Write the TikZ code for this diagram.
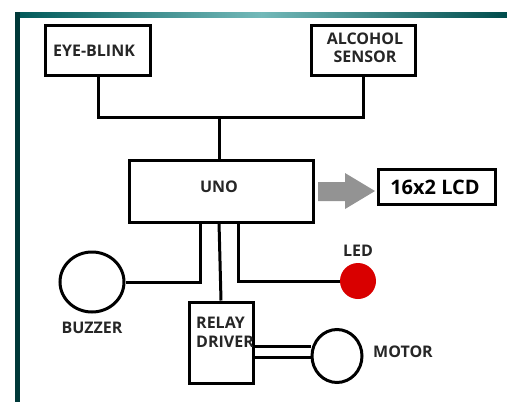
\documentclass[tikz,border=0pt]{standalone}
\usepackage{fontspec}
\setmainfont{Open Sans}
\usetikzlibrary{arrows.meta,shapes.geometric}
\begin{document}
\begin{tikzpicture}[x=1pt,y=-1pt,
  blk/.style={draw=black,line width=3pt,fill=white,inner sep=0pt},
  lbl/.style={font=\bfseries\fontsize{16}{18.5}\selectfont,text=black!85,align=center,inner sep=0pt},
  wire/.style={draw=black,line width=3pt}]
\useasboundingbox (0,0) rectangle (507,405);
\fill[white] (0,0) rectangle (507,405);
% frame
\shade[left color=teal!70!black,right color=teal!60!black,middle color=teal!55!white] (15,12) rectangle (507,17);
\fill[teal!45!black] (15,12) rectangle (20,402);
% boxes
\node[blk,minimum width=105pt,minimum height=50pt] (eye) at (98,50) {};
\node[lbl] at (94,51) {EYE-BLINK};
\node[blk,minimum width=104pt,minimum height=50pt] (alc) at (363,50) {};
\node[lbl] at (365,48) {ALCOHOL\\SENSOR};
\node[blk,minimum width=184pt,minimum height=62pt] (uno) at (221,191) {};
\node[lbl] at (219,187) {UNO};
\node[blk,minimum width=117pt,minimum height=35pt] (lcd) at (436.5,186.5) {};
\node[lbl,font=\bfseries\fontsize{20}{23}\selectfont,text=black] at (435,187) {16x2 LCD};
\node[blk,minimum width=64pt,minimum height=81pt] (relay) at (221,342.5) {};
\node[lbl,align=left,anchor=north west] at (196,317) {RELAY\\DRIVER};
% circles
\node[draw=black,line width=3pt,ellipse,minimum width=64pt,minimum height=60pt,inner sep=0pt] (buz) at (92,282) {};
\node[lbl] at (92,328) {BUZZER};
\node[circle,fill=red!85!black,minimum size=36pt,inner sep=0pt] (led) at (358,281) {};
\node[lbl] at (358,251) {LED};
\node[draw=black,line width=3pt,ellipse,minimum width=50pt,minimum height=53pt,inner sep=0pt] (mot) at (337,356) {};
\node[lbl] at (403,352) {MOTOR};
% top connectors
\coordinate (j) at (219,117);
\draw[wire] (eye.south) |- (j) -| (alc.south);
\draw[wire] (j) -- (219,160);
% gray arrow
\fill[gray!85] (318,182) -- (345,182) -- (345,173) -- (375,191) -- (345,209) -- (345,201) -- (318,201) -- cycle;
% lower connectors
\draw[wire] (200,222) |- (buz.east);
\draw[wire] (219,222) -- (relay.north);
\draw[wire] (238,222) |- (led.west);
\draw[wire] (253,346) -- (mot.west |- 0,346);
\draw[wire] (253,357) -- (mot.west |- 0,357);
\end{tikzpicture}
\end{document}
